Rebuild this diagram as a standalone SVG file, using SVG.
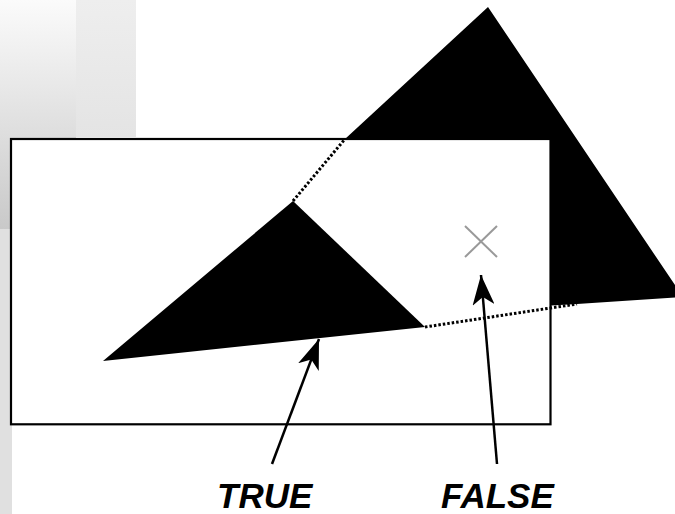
<svg xmlns="http://www.w3.org/2000/svg" width="675" height="514" viewBox="0 0 675 514">
  <defs>
    <linearGradient id="bgGrad" x1="0" y1="0" x2="0" y2="1">
      <stop offset="0" stop-color="#fbfbfb"/>
      <stop offset="1" stop-color="#c9c9c9"/>
    </linearGradient>
    <linearGradient id="bgGrad2" x1="0" y1="0" x2="0" y2="1">
      <stop offset="0" stop-color="#eeeeee"/>
      <stop offset="1" stop-color="#e4e4e4"/>
    </linearGradient>
    <marker id="arrow" viewBox="0 0 30 22" refX="30" refY="11" markerWidth="30" markerHeight="22" markerUnits="userSpaceOnUse" orient="auto">
      <path d="M30,11 L0,0 L8,11 L0,22 Z" fill="#000"/>
    </marker>
  </defs>
  <style>
    .shape { fill: #000; stroke: none; }
    .dots { fill: none; stroke: #000; stroke-width: 3; stroke-dasharray: 2.5 2; }
    .arrow { fill: none; stroke: #000; stroke-width: 2.5; marker-end: url(#arrow); }
    .label { font-family: "Liberation Sans", Arial, sans-serif; font-size: 35px; font-weight: bold; font-style: italic; fill: #000; }
    .cross { stroke: #999999; stroke-width: 2; fill: none; }
  </style>

  <g id="background">
    <rect x="0" y="0" width="76" height="229" fill="url(#bgGrad)"/>
    <rect x="76" y="0" width="60" height="137" fill="url(#bgGrad2)"/>
    <rect x="0" y="229" width="12" height="285" fill="#e0e0e0"/>
  </g>

  <g id="viewport">
    <rect x="11" y="139" width="539.5" height="285.3" fill="#ffffff" stroke="#000" stroke-width="2.2"/>
  </g>

  <g id="big-triangle">
    <polygon class="shape" points="345,139 488,7 683,297 577,304 551,305.5 551,139"/>
  </g>

  <g id="small-triangle">
    <polygon class="shape" points="103,361 293,201 425,327"/>
  </g>

  <g id="cross">
    <line class="cross" x1="465" y1="226" x2="497" y2="257"/>
    <line class="cross" x1="497" y1="226" x2="465" y2="257"/>
  </g>

  <g id="connectors">
    <line class="dots" x1="293" y1="201" x2="345" y2="139"/>
    <line class="dots" x1="425" y1="327" x2="577" y2="304"/>
    <line class="arrow" x1="272" y1="464" x2="319" y2="339"/>
    <line class="arrow" x1="497" y1="464" x2="481" y2="275"/>
  </g>

  <g id="label-true">
    <text class="label" x="217" y="508">TRUE</text>
  </g>
  <g id="label-false">
    <text class="label" x="441" y="508">FALSE</text>
  </g>
</svg>
